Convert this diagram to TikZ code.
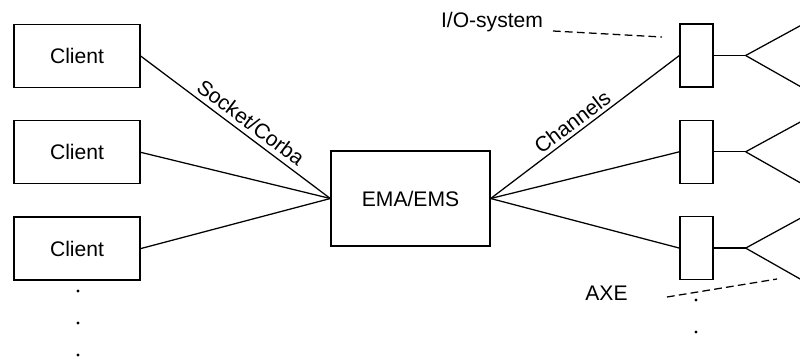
\documentclass[tikz,border=0pt]{standalone}
\usepackage{fontspec}
\setmainfont{Liberation Sans}
\usetikzlibrary{positioning}

\begin{document}
\begin{tikzpicture}[
    x=0.025cm, y=-0.025cm,
    line width=0.9pt,
    node distance=0.8cm,
    box/.style={rectangle, draw, minimum width=3.15cm, minimum height=1.575cm, font=\fontsize{15}{18}\selectfont},
    iobox/.style={rectangle, draw, minimum width=0.825cm, minimum height=1.575cm, inner sep=0pt},
    lbl/.style={font=\fontsize{15}{18}\selectfont},
    guide/.style={dash pattern=on 5.5pt off 3pt}
]
    \useasboundingbox (0,0) rectangle (800,358);

    % clients
    \node[box] (c1) at (77,56) {Client};
    \node[box, below=of c1] (c2) {Client};
    \node[box, below=of c2] (c3) {Client};

    \node[box, minimum width=3.975cm, minimum height=2.375cm] (ema) at (410.5,198.5) {EMA/EMS};

    % I/O-system boxes
    \node[iobox] (io1) at (696.5,55.5) {};
    \node[iobox, below=of io1] (io2) {};
    \node[iobox, below=of io2] (io3) {};

    \draw (c1.east) -- (ema.west) node[lbl, pos=0.54, above, sloped] {Socket/Corba};
    \draw (c2.east) -- (ema.west);
    \draw (c3.east) -- (ema.west);

    \draw (ema.east) -- (io1.west) node[lbl, pos=0.47, above=-1pt, sloped] {Channels};
    \draw (ema.east) -- (io2.west);
    \draw (ema.east) -- (io3.west);

    \foreach \i in {1,2,3} {
        \draw (io\i.east) -- ++(0.8cm,0) coordinate (f\i);
        \draw (f\i) -- ++(1.375cm,0.75cm);
        \draw (f\i) -- ++(1.375cm,-0.78cm);
    }

    % labels
    \node[lbl] (iolbl) at (492,22) {I/O-system};
    \coordinate (iofrom) at (553,31);
    \coordinate (iotip) at (662,37);
    \draw[guide] (iofrom) -- (iotip);

    \node[lbl] (axe) at (606.5,293) {AXE};
    \coordinate (axefrom) at (667,297);
    \coordinate (axetip) at (777,279);
    \draw[guide] (axefrom) -- (axetip);

    % dots
    \foreach \y in {291,323,355} \fill (78,\y) circle (1.1pt);
    \foreach \y in {300,332} \fill (696,\y) circle (1.1pt);
\end{tikzpicture}
\end{document}
